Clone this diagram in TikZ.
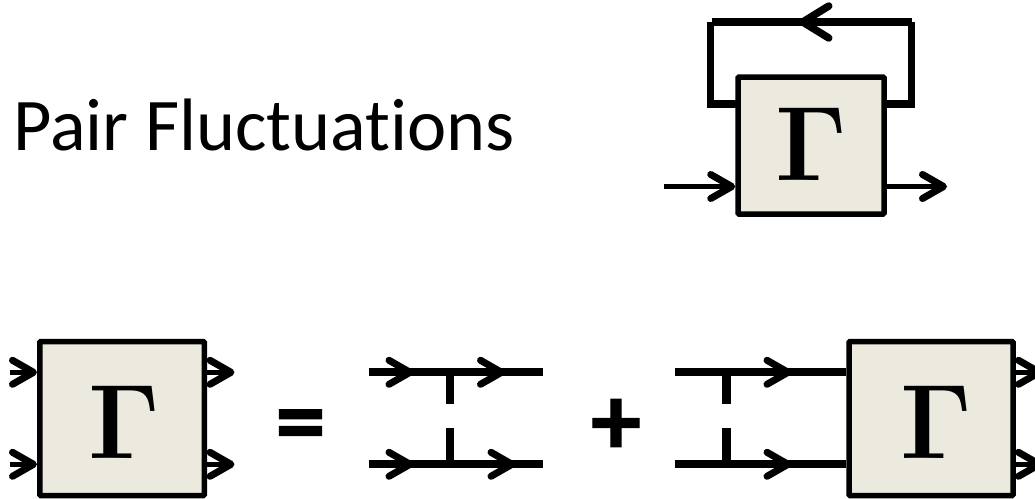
\documentclass[tikz,border=0pt]{standalone}
\usepackage{fontspec}
\newfontfamily\carlfont[Ligatures=NoCommon,BoldFeatures={FakeBold=1.2}]{Carlito}
\newfontfamily\gamfont{Latin Modern Roman}
\usetikzlibrary{arrows.meta}
\definecolor{boxfill}{HTML}{ECEADF}
\tikzset{
  x=1pt,y=-1pt,
  gbox/.style={draw=black,fill=boxfill,line width=5.5pt,rounded corners=1pt,inner sep=0pt,minimum width=#1,minimum height=154pt},
  gammalabel/.style={inner sep=0pt,font=\gamfont\bfseries\fontsize{106}{106}\selectfont},
  barb/.style={-{Straight Barb[round,length=21pt,width=24pt,line width=7pt]}},
  thin arrow/.style={line width=5.5pt,barb},
  thick line/.style={line width=8.3pt},
  bar/.style={line width=8.5pt},
  loopline/.style={line width=7.5pt},
}
\begin{document}
\begin{tikzpicture}
\useasboundingbox (0,0) rectangle (1035,498);
\clip (0,0) rectangle (1035,498);
\node[anchor=base west,inner sep=0pt,font=\carlfont\fontsize{74.3}{74.3}\selectfont] (title) at (13,150) {Pair Fluctuations};

% top diagram
\coordinate (inT) at (664,186.5);
\coordinate (outT) at (947,186.5);
\coordinate (loopLB) at (710.5,104);
\coordinate (loopLT) at (710.5,22);
\coordinate (loopRB) at (911.5,104);
\coordinate (loopRT) at (911.5,22);
\coordinate (loopTip) at (799,22);
\draw[loopline] (loopRB) -- (738,104);
\draw[loopline] (711,104) -- (738,104);
\draw[loopline] (loopLB) ++(0,3.5) -- (loopLT);
\draw[loopline] (loopRB) ++(0,3.5) -- (loopRT);
\draw[loopline] (712,22) -- (loopRT);
\draw[line width=5pt,-{Straight Barb[round,length=26pt,width=32pt,line width=7.5pt]}] (822,22) -- (loopTip);
\node[gbox=146pt,minimum height=137pt] (boxT) at (811,145.5) {};
\node[gammalabel] (gT) at (811,144.5) {Γ};
\draw[thin arrow] (inT) -- (boxT.west |- inT);
\draw[thin arrow] (boxT.east |- outT) -- (outT);

% left box
\node[gbox=164.5pt] (boxL) at (122,418.5) {};
\node[gammalabel] (gL) at (124.5,422) {Γ};
\coordinate (lAin) at (10,372.3);
\coordinate (lBin) at (10,464.3);
\coordinate (lAout) at (234.5,372.3);
\coordinate (lBout) at (234.5,464.3);
\draw[thin arrow] (lAin) -- (boxL.west |- lAin);
\draw[thin arrow] (lBin) -- (boxL.west |- lBin);
\draw[thin arrow] (boxL.east |- lAout) -- (lAout);
\draw[thin arrow] (boxL.east |- lBout) -- (lBout);

\node[inner sep=0pt,font=\carlfont\bfseries\fontsize{100}{100}\selectfont] (eq) at (300.5,432) {=};

% first ladder
\coordinate (a1) at (368.5,372.3);
\coordinate (a2) at (413.5,372.3);
\coordinate (a3) at (505,372.3);
\coordinate (a4) at (542.5,372.3);
\coordinate (b1) at (368.5,464.3);
\coordinate (b2) at (413.5,464.3);
\coordinate (b3) at (515.5,464.3);
\coordinate (b4) at (542.5,464.3);
\draw[thick line] (a1) -- (a4);
\draw[thick line] (b1) -- (b4);
\draw[thin arrow] (a1) -- (a2);
\draw[thin arrow] (a2) -- (a3);
\draw[thin arrow] (b1) -- (b2);
\draw[thin arrow] (b2) -- (b3);
\coordinate (v1a) at (450,372.3);
\coordinate (v1b) at (450,404.3);
\coordinate (v1c) at (450,428.3);
\coordinate (v1d) at (450,464.3);
\draw[bar] (v1a) -- (v1b);
\draw[bar] (v1c) -- (v1d);

\node[inner sep=0pt,font=\carlfont\bfseries\fontsize{100}{100}\selectfont] (plus) at (616,427) {+};

% second ladder
\coordinate (c1) at (675,372.3);
\coordinate (c2) at (791.5,372.3);
\coordinate (d1) at (675,464.3);
\coordinate (d2) at (791.5,464.3);
\coordinate (v2a) at (726.7,372.3);
\coordinate (v2b) at (726.7,404.3);
\coordinate (v2c) at (726.7,428.3);
\coordinate (v2d) at (726.7,464.3);
\draw[bar] (v2a) -- (v2b);
\draw[bar] (v2c) -- (v2d);
\node[gbox=164pt] (boxR) at (931,418.5) {};
\node[gammalabel] (gR) at (936,422) {Γ};
\draw[thick line] (c1) -- (boxR.west |- c1);
\draw[thick line] (d1) -- (boxR.west |- d1);
\draw[thin arrow] (c1) -- (c2);
\draw[thin arrow] (d1) -- (d2);
\coordinate (rAout) at (1043,372.3);
\coordinate (rBout) at (1043,464.3);
\draw[thin arrow] (boxR.east |- rAout) -- (rAout);
\draw[thin arrow] (boxR.east |- rBout) -- (rBout);
\end{tikzpicture}
\end{document}
